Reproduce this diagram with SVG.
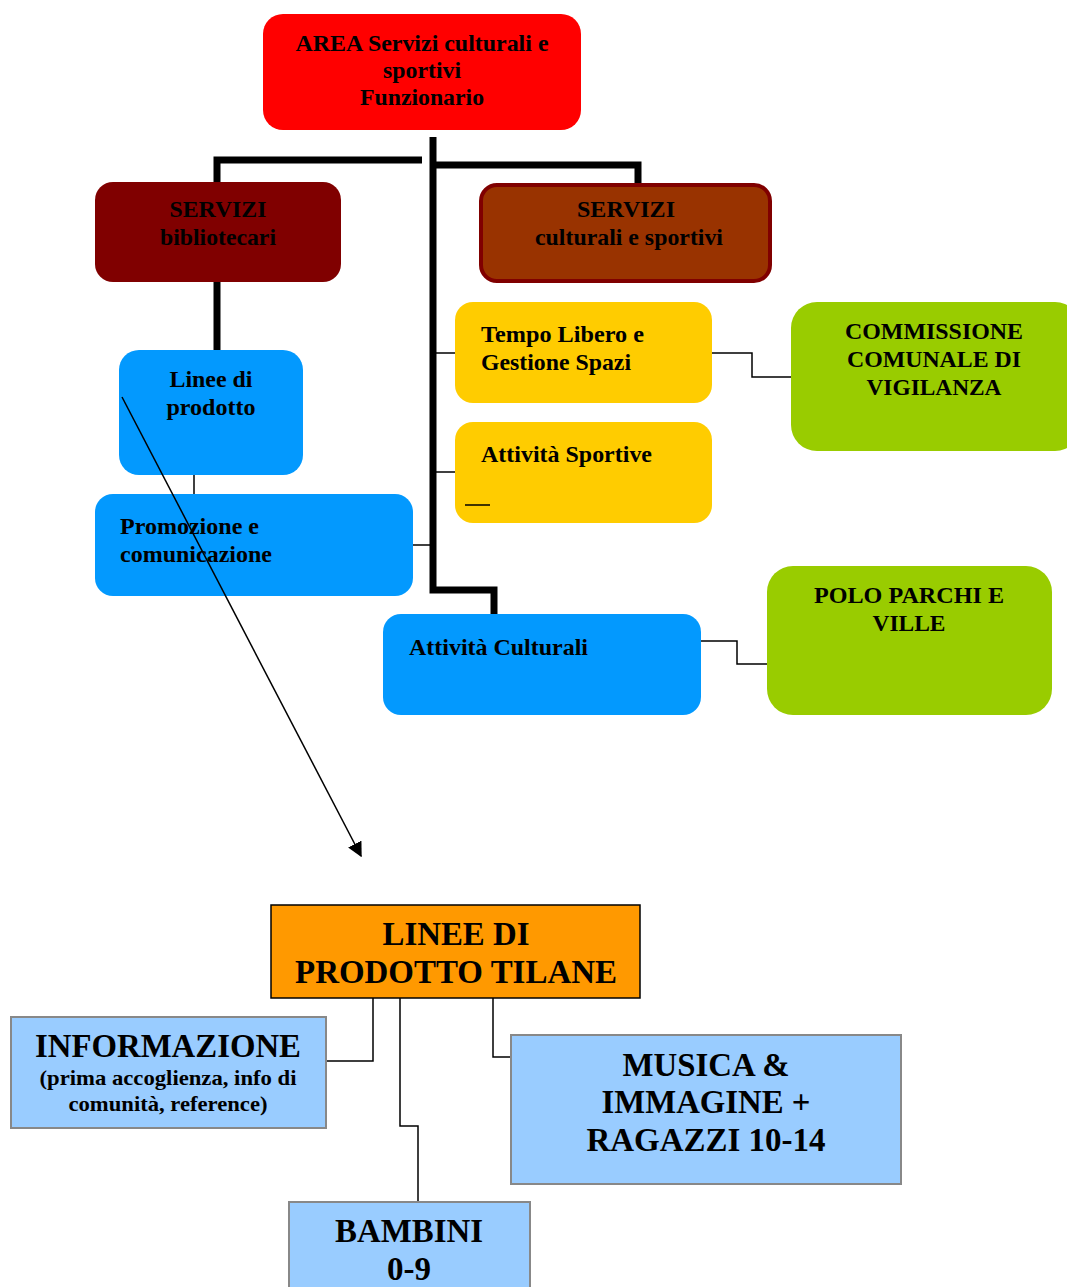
<svg xmlns="http://www.w3.org/2000/svg" width="1067" height="1287" viewBox="0 0 1067 1287">
<defs>
<style>
text{font-family:"Liberation Serif","Times New Roman",serif;font-weight:bold;fill:#000}
.t{font-size:23px}
.b{font-size:34px}
.s{font-size:21px}
.c{text-anchor:middle}
.thick{stroke:#000;stroke-width:7;fill:none}
.thin{stroke:#000;stroke-width:1.5;fill:none}
.blue{fill:#0399FE}
.yel{fill:#FFCC00}
.grn{fill:#99CC00}
.lb{fill:#99CCFF;stroke:#888;stroke-width:2}
</style>
<marker id="arr" viewBox="0 0 10 10" refX="9" refY="5" markerWidth="15" markerHeight="15" markerUnits="userSpaceOnUse" orient="auto">
<path d="M0,0 L10,5 L0,10 z" fill="#000"/>
</marker>
</defs>
<rect width="1067" height="1287" fill="#fff"/>
<g id="connectors">
<path class="thick" d="M433,137 V590 H494 V614"/>
<path class="thick" d="M422,160 H217 V182"/>
<path class="thick" d="M433,165 H638 V183"/>
<path class="thick" d="M217,282 V350"/>
<path class="thin" d="M194,475 V495"/>
<path class="thin" d="M413,545 H433"/>
<path class="thin" d="M433,353 H458"/>
<path class="thin" d="M433,472 H458"/>
<path class="thin" d="M712,353 H752 V377 H791"/>
<path class="thin" d="M698,641 H737 V664 H777"/>
<path class="thin" d="M373,998 V1061 H326"/>
<path class="thin" d="M400,998 V1126 H418 V1202"/>
<path class="thin" d="M493,998 V1057 H511"/>
</g>
<g id="area">
<rect x="263" y="14" width="318" height="116" rx="20" fill="#FF0000"/>
<text class="t c" x="422" y="51" textLength="253" lengthAdjust="spacingAndGlyphs">AREA Servizi culturali e</text>
<text class="t c" x="422" y="78" textLength="78" lengthAdjust="spacingAndGlyphs">sportivi</text>
<text class="t c" x="422" y="105" textLength="124" lengthAdjust="spacingAndGlyphs">Funzionario</text>
</g>
<g id="servizi-bibliotecari">
<rect x="95" y="182" width="246" height="100" rx="18" fill="#800000"/>
<text class="t c" x="218" y="217" textLength="97" lengthAdjust="spacingAndGlyphs">SERVIZI</text>
<text class="t c" x="218" y="245" textLength="116" lengthAdjust="spacingAndGlyphs">bibliotecari</text>
</g>
<g id="servizi-culturali">
<rect x="481" y="185" width="289" height="96" rx="16" fill="#993300" stroke="#800000" stroke-width="4"/>
<text class="t c" x="626" y="217" textLength="98" lengthAdjust="spacingAndGlyphs">SERVIZI</text>
<text class="t c" x="629" y="245" textLength="188" lengthAdjust="spacingAndGlyphs">culturali e sportivi</text>
</g>
<g id="linee-prodotto">
<rect class="blue" x="119" y="350" width="184" height="125" rx="20"/>
<text class="t c" x="211" y="387" textLength="83" lengthAdjust="spacingAndGlyphs">Linee di</text>
<text class="t c" x="211" y="415" textLength="89" lengthAdjust="spacingAndGlyphs">prodotto</text>
</g>
<g id="promozione">
<rect class="blue" x="95" y="494" width="318" height="102" rx="18"/>
<text class="t" x="120" y="534" textLength="139" lengthAdjust="spacingAndGlyphs">Promozione e</text>
<text class="t" x="120" y="562" textLength="152" lengthAdjust="spacingAndGlyphs">comunicazione</text>
</g>
<g id="tempo-libero">
<rect class="yel" x="455" y="302" width="257" height="101" rx="18"/>
<text class="t" x="481" y="342" textLength="163" lengthAdjust="spacingAndGlyphs">Tempo Libero e</text>
<text class="t" x="481" y="370" textLength="150" lengthAdjust="spacingAndGlyphs">Gestione Spazi</text>
</g>
<g id="attivita-sportive">
<rect class="yel" x="455" y="422" width="257" height="101" rx="18"/>
<text class="t" x="481" y="462" textLength="171" lengthAdjust="spacingAndGlyphs">Attività Sportive</text>
<line x1="465" y1="505" x2="490" y2="505" stroke="#000" stroke-width="1.5"/>
</g>
<g id="attivita-culturali">
<rect class="blue" x="383" y="614" width="318" height="101" rx="18"/>
<text class="t" x="409" y="655" textLength="179" lengthAdjust="spacingAndGlyphs">Attività Culturali</text>
</g>
<g id="commissione">
<rect class="grn" x="791" y="302" width="290" height="149" rx="26"/>
<text class="t c" x="934" y="339" textLength="178" lengthAdjust="spacingAndGlyphs">COMMISSIONE</text>
<text class="t c" x="934" y="367" textLength="174" lengthAdjust="spacingAndGlyphs">COMUNALE DI</text>
<text class="t c" x="934" y="395" textLength="135" lengthAdjust="spacingAndGlyphs">VIGILANZA</text>
</g>
<g id="polo-parchi">
<rect class="grn" x="767" y="566" width="285" height="149" rx="26"/>
<text class="t c" x="909" y="603" textLength="190" lengthAdjust="spacingAndGlyphs">POLO PARCHI E</text>
<text class="t c" x="909" y="631" textLength="73" lengthAdjust="spacingAndGlyphs">VILLE</text>
</g>
<g id="arrow">
<line x1="122" y1="397" x2="361" y2="856" stroke="#000" stroke-width="1.5" marker-end="url(#arr)"/>
</g>
<g id="linee-tilane">
<rect x="271" y="905" width="369" height="93" fill="#FF9900" stroke="#000" stroke-width="1.5"/>
<text class="b c" x="456" y="945" textLength="147" lengthAdjust="spacingAndGlyphs">LINEE DI</text>
<text class="b c" x="456" y="983" textLength="322" lengthAdjust="spacingAndGlyphs">PRODOTTO TILANE</text>
</g>
<g id="informazione">
<rect class="lb" x="11" y="1017" width="315" height="111"/>
<text class="b c" x="168" y="1057" textLength="266" lengthAdjust="spacingAndGlyphs">INFORMAZIONE</text>
<text class="s c" x="168" y="1085" textLength="257" lengthAdjust="spacingAndGlyphs">(prima accoglienza, info di</text>
<text class="s c" x="168" y="1111" textLength="199" lengthAdjust="spacingAndGlyphs">comunità, reference)</text>
</g>
<g id="musica">
<rect class="lb" x="511" y="1035" width="390" height="149"/>
<text class="b c" x="706" y="1076" textLength="167" lengthAdjust="spacingAndGlyphs">MUSICA &amp;</text>
<text class="b c" x="706" y="1113" textLength="209" lengthAdjust="spacingAndGlyphs">IMMAGINE +</text>
<text class="b c" x="706" y="1151" textLength="239" lengthAdjust="spacingAndGlyphs">RAGAZZI 10-14</text>
</g>
<g id="bambini">
<rect class="lb" x="289" y="1202" width="241" height="95"/>
<text class="b c" x="409" y="1242" textLength="148" lengthAdjust="spacingAndGlyphs">BAMBINI</text>
<text class="b c" x="409" y="1280" textLength="44" lengthAdjust="spacingAndGlyphs">0-9</text>
</g>
</svg>
